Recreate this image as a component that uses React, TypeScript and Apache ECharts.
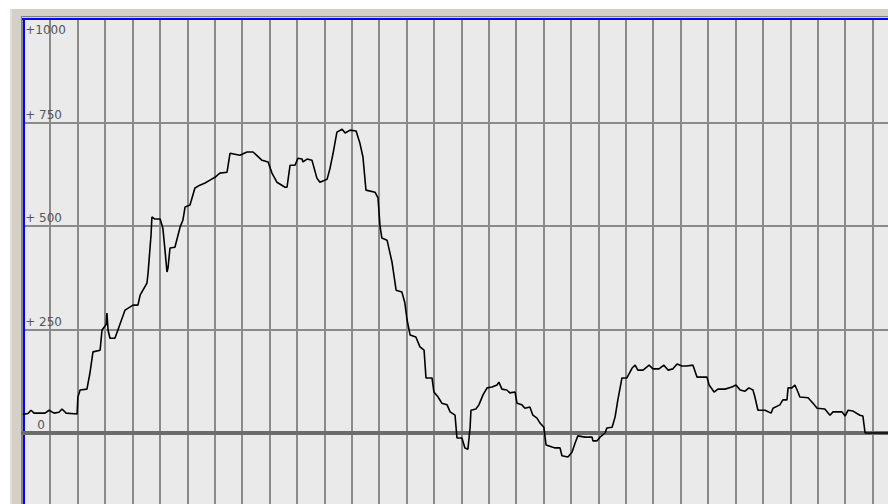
import React, { useEffect, useRef } from "react";
import * as echarts from "echarts";

// sample positions (x axis units, one vertical gridline every 10)
const xs: number[] = [
  0, 1.9, 3.0, 4.1, 8.1, 9.6, 11.4, 13.2, 14.3, 15.8, 19.8, 20.1, 20.9, 23.4, 24.5, 25.6, 28.2, 28.9, 30.4, 30.7,
  31.1, 31.8, 33.6, 34.7, 37.3, 40.2, 42.0, 42.8, 45.3, 45.7, 46.8, 47.1, 48.2, 50.1, 51.1, 51.9, 52.6, 53.0, 53.7, 55.5,
  57.4, 58.4, 59.2, 61.0, 62.8, 64.6, 66.5, 68.3, 70.1, 71.9, 74.5, 75.6, 79.2, 81.8, 84.0, 87.3, 89.5, 90.9, 92.7, 95.7,
  96.4, 97.5, 99.3, 100.4, 101.9, 102.2, 103.7, 105.5, 107.3, 108.4, 111.0, 112.1, 113.2, 114.6, 116.5, 117.6, 119.4, 121.6, 123.0, 124.1,
  125.2, 128.5, 129.6, 130.3, 131.0, 132.9, 134.7, 136.2, 138.3, 139.4, 140.2, 141.3, 143.4, 144.9, 146.4, 147.1, 149.3, 150.0, 151.5, 152.9,
  154.8, 155.9, 157.7, 158.4, 160.2, 161.3, 162.4, 163.2, 163.5, 165.3, 166.4, 167.9, 169.4, 171.2, 173.0, 173.7, 174.8, 176.6, 177.7, 179.6,
  180.3, 182.1, 183.2, 185.0, 186.1, 187.6, 188.7, 190.1, 190.9, 193.1, 194.2, 196.0, 196.7, 198.9, 200.4, 201.5, 202.5, 205.1, 207.7, 208.0,
  209.5, 210.6, 212.4, 213.1, 215.0, 216.1, 217.1, 218.6, 220.4, 222.3, 223.4, 224.4, 226.3, 228.5, 229.9, 232.1, 233.9, 235.4, 237.2, 238.7,
  240.5, 242.2, 244.5, 246.0, 249.6, 250.4, 252.2, 253.6, 256.2, 258.7, 260.2, 261.7, 263.5, 264.9, 266.4, 267.1, 268.2, 270.8, 273.0, 273.7,
  276.2, 277.3, 278.8, 279.2, 280.6, 281.7, 282.8, 283.5, 286.5, 288.3, 289.8, 292.6, 294.5, 295.6, 298.9, 300.0, 301.1, 302.9, 305.4, 306.5,
  307.3, 320,
];

const ys: number[] = [
  45, 47, 55, 48, 48, 55, 48, 50, 58, 48, 46, 87, 104, 106, 145, 196, 200, 249, 262, 290,
  249, 229, 229, 249, 297, 309, 309, 333, 362, 386, 480, 522, 517, 517, 495, 440, 389, 400, 447, 449,
  498, 514, 546, 551, 592, 599, 604, 611, 618, 628, 630, 676, 671, 679, 679, 659, 655, 628, 606, 594,
  594, 647, 647, 664, 662, 655, 662, 659, 616, 606, 613, 640, 676, 727, 734, 725, 732, 730, 700, 667,
  587, 582, 568, 502, 471, 466, 413, 345, 341, 314, 273, 237, 232, 208, 200, 133, 133, 99, 87, 72,
  68, 51, 43, -12, -12, -36, -39, 14, 55, 58, 68, 92, 109, 111, 116, 123, 106, 104, 97, 99,
  72, 68, 60, 63, 43, 36, 24, 14, -29, -34, -36, -36, -55, -58, -46, -24, -7, -10, -10, -19,
  -19, -10, 0, 12, 14, 39, 80, 133, 133, 157, 164, 152, 152, 164, 155, 155, 164, 152, 155, 167,
  162, 162, 164, 135, 135, 116, 99, 106, 106, 111, 116, 104, 101, 109, 104, 87, 55, 55, 48, 60,
  68, 80, 80, 109, 109, 116, 99, 87, 85, 72, 60, 58, 43, 51, 51, 41, 55, 53, 43, 41,
  0, 0,
];

const yTicks: number[] = [0, 250, 500, 750, 1000];

export default function App() {
  const ref = useRef<HTMLDivElement>(null);

  useEffect(() => {
    if (!ref.current) return;
    const chart = echarts.init(ref.current, null, { renderer: "svg" });
    const data = xs.map((x, i) => [x, ys[i]]);
    const font = "DejaVu Sans";
    const labelColor = "#555555";
    chart.setOption({
      animation: false,
      backgroundColor: "transparent",
      grid: {
        left: 22.8,
        top: 19.2,
        width: 877.1,
        height: 517.25,
        show: true,
        backgroundColor: "#eaeaea",
        borderWidth: 0,
      },
      xAxis: [
        {
          type: "value",
          min: 0,
          max: 320,
          interval: 10,
          position: "bottom",
          axisLine: { show: true, onZero: true, onZeroAxisIndex: 0, lineStyle: { color: "#6b6b6b", width: 4 } },
          axisTick: { show: false },
          axisLabel: { show: false },
          splitLine: { show: true, lineStyle: { color: "#8a8a8a", width: 2 } },
        },
        {
          type: "value",
          min: 0,
          max: 320,
          interval: 10,
          position: "top",
          axisLine: { show: true, onZero: false, lineStyle: { color: "#0000ff", width: 2 } },
          axisTick: { show: false },
          axisLabel: { show: false },
          splitLine: { show: false },
        },
      ],
      yAxis: [
        {
          type: "value",
          min: -250,
          max: 1000,
          interval: 250,
          position: "left",
          offset: -1.4,
          axisLine: { show: true, onZero: false, lineStyle: { color: "#0000ff", width: 2 } },
          axisTick: { show: false },
          splitLine: { show: true, lineStyle: { color: "#8a8a8a", width: 2 } },
          axisLabel: {
            inside: true,
            margin: 1,
            color: labelColor,
            fontFamily: font,
            fontSize: 12,
            verticalAlign: "bottom",
            padding: [0, 0, 2, 0],
            formatter: (v: number) =>
              v === 0 ? "{z|0}" : yTicks.includes(v) && v < 1000 ? "+ " + v : "",
            rich: {
              z: { padding: [0, 0, 0, 12], color: labelColor, fontFamily: font, fontSize: 12 },
            },
          },
        },
        {
          type: "value",
          min: -250,
          max: 1000,
          interval: 250,
          position: "left",
          offset: -1.4,
          axisLine: { show: false },
          axisTick: { show: false },
          splitLine: { show: false },
          axisLabel: {
            inside: true,
            margin: 1,
            color: labelColor,
            fontFamily: font,
            fontSize: 12,
            verticalAlign: "top",
            padding: [5, 0, 0, 0],
            formatter: (v: number) => (v === 1000 ? "+1000" : ""),
          },
        },
      ],
      series: [
        {
          type: "line",
          xAxisIndex: 0,
          yAxisIndex: 0,
          data,
          showSymbol: false,
          symbol: "none",
          lineStyle: { color: "#000", width: 1.6 },
          clip: true,
        },
      ],
    });
    return () => chart.dispose();
  }, []);

  return (
    <div
      style={{
        position: "fixed",
        left: 0,
        top: 0,
        width: 888,
        height: 504,
        background: "#ffffff",
        overflow: "hidden",
      }}
    >
      <div
        style={{
          position: "absolute",
          left: 10,
          top: 9,
          width: 878,
          height: 495,
          background: "#d4d0c8",
          borderLeft: "2px solid #e2dfd9",
          boxSizing: "border-box",
        }}
      />
      <div
        style={{
          position: "absolute",
          left: 21,
          top: 16,
          width: 867,
          height: 488,
          borderLeft: "1px solid #808080",
          borderTop: "1px solid #808080",
          boxSizing: "border-box",
        }}
      />
      <div ref={ref} style={{ position: "absolute", left: 0, top: 0, width: 960, height: 600 }} />
    </div>
  );
}
